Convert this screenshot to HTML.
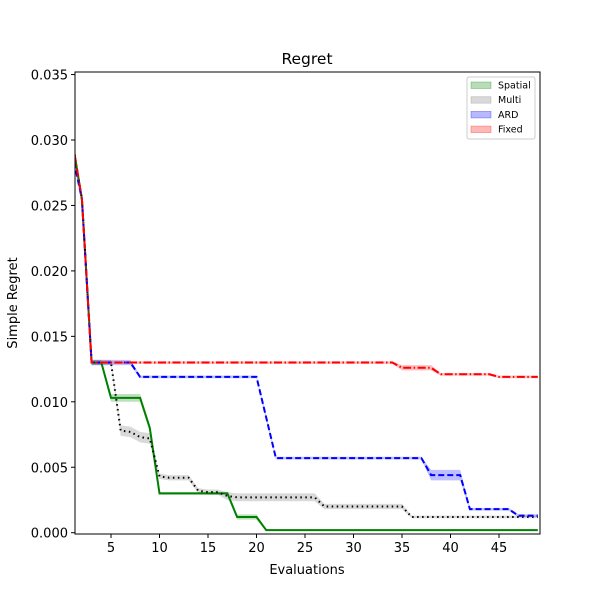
<!DOCTYPE html>
<html><head><meta charset="utf-8"><style>
body{margin:0;background:#fff;}
svg{display:block;font-family:"DejaVu Sans","Liberation Sans",sans-serif;}
</style></head><body>
<svg id="chart" width="600" height="600"></svg>
<script>
const evals = [];
for (let i = 1; i <= 49; i++) evals.push(i);
const spatial = [0.030,0.0255,0.013,0.013,0.0103,0.0103,0.0103,0.0103,0.0080,0.0030,0.0030,0.0030,0.0030,0.0030,0.0030,0.0030,0.0030,0.0012,0.0012,0.0012,0.0002,0.0002,0.0002,0.0002,0.0002,0.0002,0.0002,0.0002,0.0002,0.0002,0.0002,0.0002,0.0002,0.0002,0.0002,0.0002,0.0002,0.0002,0.0002,0.0002,0.0002,0.0002,0.0002,0.0002,0.0002,0.0002,0.0002,0.0002,0.0002];
const spatialStd = [0.0003,0.0003,0.0002,0.0002,0.0003,0.0003,0.0003,0.0003,0.0003,0.0001,0.0001,0.0001,0.0001,0.0001,0.0001,0.0001,0.0001,0.0002,0.0002,0.0002,0.00005,0.00005,0.00005,0.00005,0.00005,0.00005,0.00005,0.00005,0.00005,0.00005,0.00005,0.00005,0.00005,0.00005,0.00005,0.00005,0.00005,0.00005,0.00005,0.00005,0.00005,0.00005,0.00005,0.00005,0.00005,0.00005,0.00005,0.00005,0.00005];
const multi = [0.030,0.0255,0.013,0.013,0.013,0.0078,0.0077,0.0073,0.0072,0.0043,0.0042,0.0042,0.0042,0.0032,0.0031,0.0031,0.0028,0.0027,0.0027,0.0027,0.0027,0.0027,0.0027,0.0027,0.0027,0.0027,0.0020,0.0020,0.0020,0.0020,0.0020,0.0020,0.0020,0.0020,0.0020,0.0012,0.0012,0.0012,0.0012,0.0012,0.0012,0.0012,0.0012,0.0012,0.0012,0.0012,0.0012,0.0012,0.0012];
const multiStd = [0.0003,0.0003,0.0002,0.0002,0.0002,0.0004,0.0004,0.0004,0.0004,0.0002,0.0002,0.0002,0.0002,0.0002,0.0002,0.0002,0.0003,0.0003,0.0003,0.0003,0.0003,0.0003,0.0003,0.0003,0.0003,0.0003,0.0002,0.0002,0.0002,0.0002,0.0002,0.0002,0.0002,0.0002,0.0002,0.0001,0.0001,0.0001,0.0001,0.0001,0.0001,0.0001,0.0001,0.0001,0.0001,0.0001,0.0001,0.0001,0.0001];
const ard = [0.029,0.0255,0.013,0.013,0.013,0.013,0.013,0.0119,0.0119,0.0119,0.0119,0.0119,0.0119,0.0119,0.0119,0.0119,0.0119,0.0119,0.0119,0.0119,0.0088,0.0057,0.0057,0.0057,0.0057,0.0057,0.0057,0.0057,0.0057,0.0057,0.0057,0.0057,0.0057,0.0057,0.0057,0.0057,0.0057,0.0044,0.0044,0.0044,0.0044,0.0018,0.0018,0.0018,0.0018,0.0018,0.0013,0.0013,0.0013];
const ardStd = [0.0003,0.0003,0.0002,0.0002,0.0002,0.0002,0.0002,0.0001,0.0001,0.0001,0.0001,0.0001,0.0001,0.0001,0.0001,0.0001,0.0001,0.0001,0.0001,0.0001,0.0002,0.0001,0.0001,0.0001,0.0001,0.0001,0.0001,0.0001,0.0001,0.0001,0.0001,0.0001,0.0001,0.0001,0.0001,0.0001,0.0001,0.0004,0.0004,0.0004,0.0004,0.0001,0.0001,0.0001,0.0001,0.0001,0.0001,0.0001,0.0001];
const fixed = [0.030,0.0255,0.013,0.013,0.013,0.013,0.013,0.013,0.013,0.013,0.013,0.013,0.013,0.013,0.013,0.013,0.013,0.013,0.013,0.013,0.013,0.013,0.013,0.013,0.013,0.013,0.013,0.013,0.013,0.013,0.013,0.013,0.013,0.013,0.0126,0.0126,0.0126,0.0126,0.0121,0.0121,0.0121,0.0121,0.0121,0.0121,0.0119,0.0119,0.0119,0.0119,0.0119];
const fixedStd = [0.0003,0.0003,0.0001,0.0001,0.0001,0.0001,0.0001,0.0001,0.0001,0.0001,0.0001,0.0001,0.0001,0.0001,0.0001,0.0001,0.0001,0.0001,0.0001,0.0001,0.0001,0.0001,0.0001,0.0001,0.0001,0.0001,0.0001,0.0001,0.0001,0.0001,0.0001,0.0001,0.0001,0.0001,0.0002,0.0002,0.0002,0.0002,0.0001,0.0001,0.0001,0.0001,0.0001,0.0001,0.0001,0.0001,0.0001,0.0001,0.0001];
const xTicks = [5,10,15,20,25,30,35,40,45];
const yTicks = [0,0.005,0.010,0.015,0.020,0.025,0.030,0.035];
const yTickLabels = ["0.000","0.005","0.010","0.015","0.020","0.025","0.030","0.035"];
const legendLabels = ["Spatial","Multi","ARD","Fixed"];

const L=75,R=540,T=72,B=534;
function xs(v){return 111+(v-5)*9.7;}
function ys(v){return 532.7-v*13090;}
const svg=document.getElementById('chart');
const NS='http://www.w3.org/2000/svg';
function mk(tag,attrs,parent){const e=document.createElementNS(NS,tag);for(const k in attrs)e.setAttribute(k,attrs[k]);(parent||svg).appendChild(e);return e;}

const clip=mk('clipPath',{id:'plotclip'});
mk('rect',{x:L,y:T,width:R-L,height:B-T},clip);
const plot=mk('g',{'clip-path':'url(#plotclip)'});



const series=[
 {name:'spatial',vals:spatial,std:spatialStd,color:'green',fill:'rgba(0,128,0,0.25)',dash:''},
 {name:'multi',vals:multi,std:multiStd,color:'black',fill:'rgba(128,128,128,0.3)',dash:'1.5,3.5'},
 {name:'ard',vals:ard,std:ardStd,color:'blue',fill:'rgba(0,0,255,0.25)',dash:'6,3'},
 {name:'fixed',vals:fixed,std:fixedStd,color:'red',fill:'rgba(255,0,0,0.25)',dash:'8,2.5,1.5,2.5'}
];
series.forEach(s=>{
  let up=evals.map((x,i)=>xs(x)+','+ys(s.vals[i]+s.std[i]));
  let dn=evals.map((x,i)=>xs(x)+','+ys(s.vals[i]-s.std[i])).reverse();
  const band=mk('polygon',{points:up.concat(dn).join(' '),fill:s.fill,stroke:'none'},plot);
  
  
});
series.forEach(s=>{
  const pts=evals.map((x,i)=>xs(x)+','+ys(s.vals[i])).join(' ');
  const a={points:pts,fill:'none',stroke:s.color,'stroke-width':2};
  if(s.dash)a['stroke-dasharray']=s.dash;
  const line=mk('polyline',a,plot);
  
  
});

const frame=mk('rect',{x:L,y:T,width:R-L,height:B-T,fill:'none',stroke:'#000','stroke-width':1});



xTicks.forEach(t=>{
  const x=xs(t);
  mk('line',{x1:x,x2:x,y1:B,y2:B+4,stroke:'#000'});
  const tx=mk('text',{x:x,y:B+18,'text-anchor':'middle','font-size':13});
  tx.textContent=t;
  
  
});
yTicks.forEach((t,i)=>{
  const y=ys(t);
  mk('line',{x1:L-4,x2:L,y1:y,y2:y,stroke:'#000'});
  const tx=mk('text',{x:L-7,y:y+5,'text-anchor':'end','font-size':13});
  tx.textContent=yTickLabels[i];
  
  
});

const title=mk('text',{x:307,y:64,'text-anchor':'middle','font-size':15.5});
title.textContent='Regret';


const xl=mk('text',{x:307,y:574,'text-anchor':'middle','font-size':13});
xl.textContent='Evaluations';


const yl=mk('text',{x:17,y:303,'text-anchor':'middle','font-size':13,transform:'rotate(-90 17 303)'});
yl.textContent='Simple Regret';



const lg=mk('g',{});


mk('rect',{x:467,y:77,width:68,height:62,rx:2,fill:'#fff',stroke:'#ccc','stroke-width':1},lg);
const lfill=['rgba(0,128,0,0.28)','rgba(128,128,128,0.3)','rgba(0,0,255,0.28)','rgba(255,0,0,0.28)'];
const lstroke=['rgba(0,128,0,0.35)','rgba(128,128,128,0.35)','rgba(0,0,255,0.35)','rgba(255,0,0,0.35)'];
legendLabels.forEach((lab,i)=>{
  const y=85+i*14.7;
  const e=mk('g',{},lg);
  
  
  mk('rect',{x:471,y:y-3,width:20,height:6.5,fill:lfill[i],stroke:lstroke[i],'stroke-width':0.8},e);
  const t=mk('text',{x:498,y:y+3.5,'font-size':9.5},e);
  t.textContent=lab;
});
</script>
</body></html>
